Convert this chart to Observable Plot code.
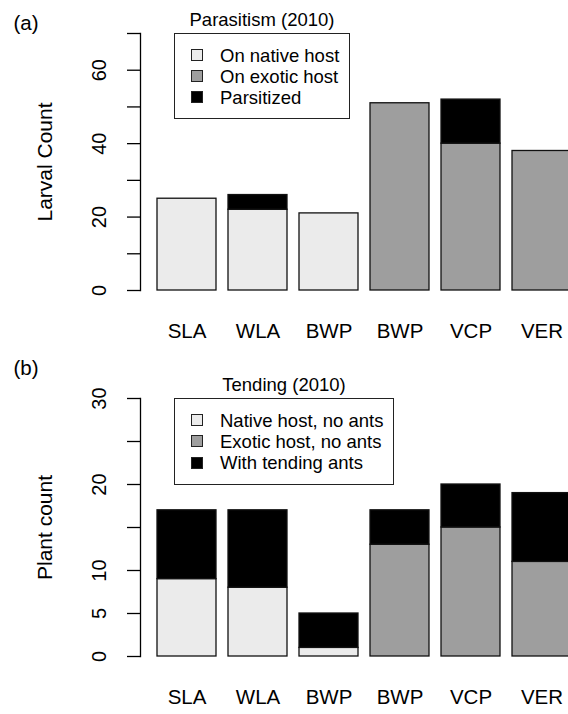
<!DOCTYPE html>
<html>
<head>
<meta charset="utf-8">
<script src="https://cdn.jsdelivr.net/npm/d3@7"></script>
<script src="https://cdn.jsdelivr.net/npm/@observablehq/plot@0.6"></script>
<style>
  body { margin: 0; width: 568px; height: 714px; overflow: hidden; background: #fff;
         font-family: "Liberation Sans", Arial, Helvetica, sans-serif; color: #000; }
  .panel { position: relative; width: 568px; overflow: hidden; }
  .panel svg { max-width: none !important; display: block; }
  .legend { position: absolute; border: 1px solid #222; background: #fff; box-sizing: border-box; }
  .ltitle { position: absolute; text-align: center; font-size: 18.5px; line-height: 20px; white-space: nowrap; }
  .lrow { position: absolute; left: 0; right: 0; height: 21px; line-height: 21px; font-size: 18.5px; white-space: nowrap; }
  .lsw { position: absolute; width: 12px; height: 12px; box-sizing: border-box; border: 1px solid #222; top: 4.5px; left: 15.5px; }
  .ltx { position: absolute; left: 45px; top: 0; }
</style>
</head>
<body>
<div id="a" class="panel"></div>
<div id="b" class="panel"></div>
<script>
// ---- data ----
const sites = ["SLA", "WLA", "BWP", "BWP", "VCP", "VER"];

const parasitismTitle = "Parasitism (2010)";
const parasitismSeries = ["On native host", "On exotic host", "Parsitized"];
const parNative = [25, 22, 21, 0, 0, 0];
const parExotic = [0, 0, 0, 51, 40, 38];
const parParasitized = [0, 4, 0, 0, 12, 0];
const parTicks = [0, 10, 20, 30, 40, 50, 60, 70];
const parTickLabels = [0, 20, 40, 60];

const tendingTitle = "Tending (2010)";
const tendingSeries = ["Native host, no ants", "Exotic host, no ants", "With tending ants"];
const tendNative = [9, 8, 1, 0, 0, 0];
const tendExotic = [0, 0, 0, 13, 15, 11];
const tendAnts = [8, 9, 4, 4, 5, 8];
const tendTicks = [0, 5, 10, 15, 20, 25, 30];
const tendTickLabels = [0, 5, 10, 20, 30];

const fills = ["#ebebeb", "#9e9e9e", "#000000"];

function rowsFrom(series, arrays) {
  const rows = [];
  series.forEach((s, k) => {
    arrays[k].forEach((v, i) => { if (v > 0) rows.push({site: i, series: s, value: v}); });
  });
  return rows;
}

function panel(opts) {
  const {rows, series, ticks, tickLabels, ymax, height, marginTop, marginBottom, ylabel, tag} = opts;
  const svg = Plot.plot({
    width: 588,
    height,
    marginLeft: 140,
    marginRight: 0,
    marginTop,
    marginBottom,
    style: {fontFamily: "Liberation Sans, Arial, sans-serif", fontSize: "20px", color: "#000", background: "#fff", overflow: "visible"},
    x: {type: "band", domain: d3.range(sites.length), paddingInner: 0.163, paddingOuter: 0.235},
    y: {domain: [0, ymax]},
    color: {domain: series, range: fills},
    marks: [
      Plot.barY(rows, {x: "site", y: "value", fill: "series", stroke: "#111", strokeWidth: 1.3}),
      Plot.frame({anchor: "left", stroke: "#000", strokeWidth: 1.3}),
      Plot.axisY({ticks, tickSize: 13, tickFormat: () => "", label: null, strokeWidth: 1.3}),
      Plot.text(tickLabels, {y: d => d, text: d => String(d), frameAnchor: "left", dx: -41, rotate: -90,
        textAnchor: "middle", lineAnchor: "middle", fontSize: 20}),
      Plot.axisX({tickSize: 0, tickPadding: 33, tickFormat: i => sites[i], label: null, fontSize: 20.5}),
      Plot.text([ylabel], {text: d => d, frameAnchor: "left", dx: -95, rotate: -90,
        textAnchor: "middle", lineAnchor: "middle", fontSize: 21}),
      Plot.text([tag], {text: d => d, frameAnchor: "top-left", dx: -127, dy: -10 - (marginTop - 33),
        textAnchor: "start", lineAnchor: "middle", fontSize: 20.5})
    ]
  });
  svg.style.maxWidth = "none";
  svg.style.width = "588px";
  svg.style.height = height + "px";
  return svg;
}

function legend(container, title, names, box) {
  const t = document.createElement("div");
  t.className = "ltitle";
  t.style.left = box.left + "px"; t.style.width = box.width + "px"; t.style.top = box.titleTop + "px";
  t.textContent = title;
  container.appendChild(t);
  const L = document.createElement("div");
  L.className = "legend";
  Object.assign(L.style, {left: box.left + "px", top: box.top + "px", width: box.width + "px", height: box.height + "px"});
  names.forEach((n, k) => {
    const r = document.createElement("div");
    r.className = "lrow";
    r.style.top = (box.firstRow + k * box.rowStep) + "px";
    const sw = document.createElement("div");
    sw.className = "lsw"; sw.style.background = fills[k];
    const tx = document.createElement("div");
    tx.className = "ltx"; tx.textContent = n;
    r.appendChild(sw); r.appendChild(tx);
    L.appendChild(r);
  });
  container.appendChild(L);
}

const A = document.getElementById("a");
A.appendChild(panel({
  rows: rowsFrom(parasitismSeries, [parNative, parExotic, parParasitized]),
  series: parasitismSeries, ticks: parTicks, tickLabels: parTickLabels, ymax: 70,
  height: 345, marginTop: 33, marginBottom: 55, ylabel: "Larval Count", tag: "(a)"
}));
legend(A, parasitismTitle, parasitismSeries, {left: 174, top: 33, width: 176, height: 86, titleTop: 10, firstRow: 10.5, rowStep: 21.2});

const B = document.getElementById("b");
B.appendChild(panel({
  rows: rowsFrom(tendingSeries, [tendNative, tendExotic, tendAnts]),
  series: tendingSeries, ticks: tendTicks, tickLabels: tendTickLabels, ymax: 30,
  height: 369, marginTop: 53, marginBottom: 58, ylabel: "Plant count", tag: "(b)"
}));
legend(B, tendingTitle, tendingSeries, {left: 174, top: 53, width: 220, height: 87, titleTop: 30, firstRow: 10.5, rowStep: 21.4});
</script>
</body>
</html>
